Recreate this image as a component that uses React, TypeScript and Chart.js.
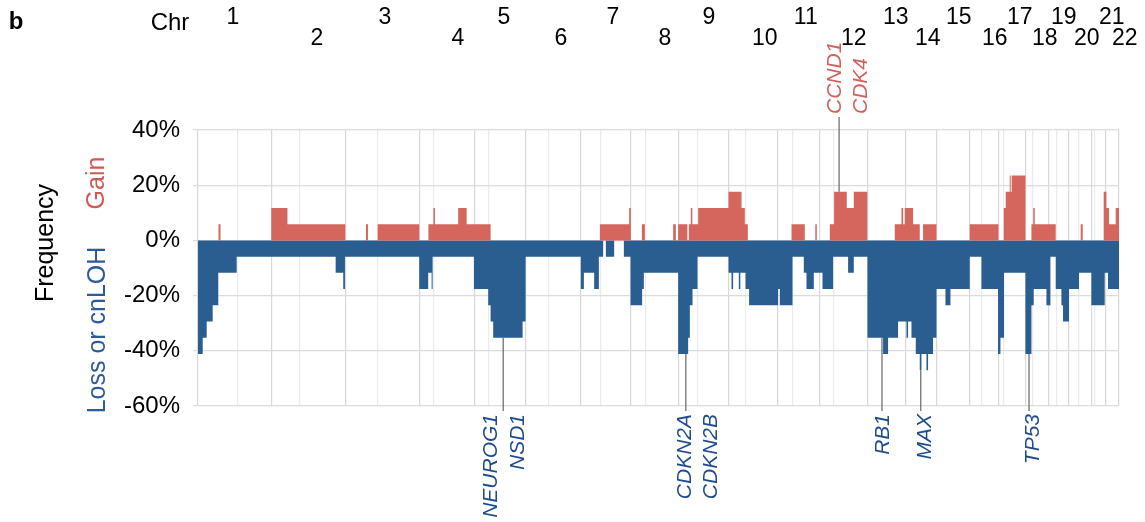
import React, { useEffect, useRef } from 'react';
import { Chart, registerables } from 'chart.js';

Chart.register(...registerables);

const FONT = '"Liberation Sans", Arial, Helvetica, sans-serif';

// Number of samples in the cohort (frequencies are counts / samples)
const SAMPLE_COUNT = 17;

// Genome coordinate axis (arbitrary genome units)
const GENOME_END = 921.3;
const chromosomes = ['1', '2', '3', '4', '5', '6', '7', '8', '9', '10', '11', '12', '13', '14', '15', '16', '17', '18', '19', '20', '21', '22'];
const chromBoundaries = [0, 73.3, 147.3, 221.3, 276.3, 327.7, 382.7, 432.7, 481, 530.7, 579.3, 621.7, 669.7, 707.7, 738.7, 772.3, 800.7, 827.7, 850.7, 871.3, 894, 907.7, 921.3];
const centromeres = [39.7, 102, 179.7, 235.7, 290.3, 351, 403, 447.7, 499.7, 547.7, 594.7, 636.3, 784, 806.3, 834.7, 858.7, 880.7, 897];
const chromLabelPos = [35, 119, 187, 260, 306, 363, 415, 467, 511, 567, 608, 656, 698, 730, 761, 797, 822, 847, 866, 889, 914, 927];

// Segments: [start position, number of samples]
const gainSegments: [number, number][] = [
  [0, 0], [20.5, 1], [22.5, 0], [73.3, 2], [89.5, 1], [147.3, 0], [168, 1], [170, 0], [179.7, 1], [221.3, 0],
  [230.5, 1], [235.5, 2], [237, 1], [260.3, 2], [268.7, 1], [292.7, 0], [402, 1], [431.3, 2], [433, 0], [444, 1],
  [447, 0], [475.3, 1], [478, 0], [480.3, 1], [489.5, 0], [491, 1], [493, 2], [494.5, 1], [500.3, 2], [530.7, 3],
  [543.7, 2], [547, 1], [550, 0], [593.7, 1], [607, 0], [617.5, 1], [619, 0], [632, 1], [636.3, 3], [649, 2],
  [656, 3], [669.5, 0], [697, 1], [703.7, 2], [705.3, 1], [707, 2], [715.3, 1], [722, 0], [725.3, 1], [738.7, 0],
  [772, 1], [800.7, 0], [806, 2], [808, 3], [812, 4], [813, 3], [814, 4], [827.7, 0], [833.7, 1], [835.5, 2],
  [837, 1], [858, 0], [883, 1], [885, 0], [906, 3], [908.7, 2], [911.3, 1], [918, 2], [921.3, 2],
];

const lossSegments: [number, number][] = [
  [0, 7], [4.7, 6], [8.7, 5], [14.7, 4], [20.3, 2], [38.7, 1], [137.7, 2], [145.3, 3], [147, 1], [221.3, 3],
  [230.3, 2], [233.7, 3], [234.7, 1], [276, 3], [290.3, 4], [292.7, 5], [295.3, 6], [324.7, 5], [327.7, 1], [383, 3],
  [386, 2], [396.3, 3], [401, 1], [405.3, 0], [408, 1], [416.3, 0], [426, 1], [432.7, 4], [444.3, 3], [446, 2],
  [480.3, 7], [490.3, 6], [492, 4], [494.7, 3], [499.7, 1], [530.7, 2], [533.7, 3], [535.3, 2], [541, 3], [542.5, 2],
  [547.7, 3], [551.3, 4], [580.3, 3], [582, 4], [594.7, 1], [606, 2], [608.7, 3], [616, 2], [624.7, 3], [635.3, 1],
  [650.3, 2], [656, 1], [669.7, 6], [685.3, 7], [690.3, 6], [700.3, 5], [708.7, 6], [710.3, 5], [713.7, 6], [718, 7],
  [722, 8], [723.7, 7], [728.7, 8], [730.3, 7], [735.3, 6], [738.7, 3], [747.7, 4], [752.7, 3], [772, 1], [783.7, 3],
  [800.3, 7], [802.7, 6], [806.3, 2], [827.7, 7], [833.7, 4], [836, 3], [848.7, 4], [852.7, 1], [858, 3], [863.7, 4],
  [865.3, 5], [871.3, 3], [881.3, 2], [893.7, 4], [907, 2], [910.3, 3], [921.3, 3],
];

// Gene annotations
const lossGenes = ['NEUROG1', 'NSD1', 'CDKN2A', 'CDKN2B', 'RB1', 'MAX', 'TP53'];
const lossGeneLabelPos = [293.7, 320.3, 487, 513, 685.3, 727, 835.3];
const lossMarkerPos = [305.3, 488, 684.2, 723, 831.3];
const lossMarkerCount = [6, 7, 6, 8, 7];
const gainGenes = ['CCND1', 'CDK4'];
const gainGeneLabelPos = [637, 663.7];
const gainMarkerPos = [641.3];
const gainMarkerCount = [3];

const yTicks = [-60, -40, -20, 0, 20, 40];

const GAIN_COLOR = '#D4665E';
const LOSS_COLOR = '#2A5E91';

const boundarySet = new Set(chromBoundaries);
const gridPositions = [...chromBoundaries, ...centromeres].sort((a, b) => a - b);

const toPct = (count: number) => (count / SAMPLE_COUNT) * 100;

function drawRotated(ctx: CanvasRenderingContext2D, text: string, x: number, y: number, align: CanvasTextAlign) {
  ctx.save();
  ctx.translate(x, y);
  ctx.rotate(-Math.PI / 2);
  ctx.textAlign = align;
  ctx.textBaseline = 'middle';
  ctx.fillText(text, 0, 0);
  ctx.restore();
}

const annotationPlugin = {
  id: 'annotations',
  afterDraw(chart: any) {
    const { ctx, chartArea } = chart;
    const x = chart.scales.x;
    const y = chart.scales.y;
    ctx.save();
    ctx.fillStyle = '#000';
    ctx.textAlign = 'center';
    ctx.textBaseline = 'middle';
    ctx.font = `bold 24px ${FONT}`;
    ctx.fillText('b', 16, 22);
    ctx.font = `24px ${FONT}`;
    ctx.fillText('Chr', 170, 23);
    ctx.font = `23px ${FONT}`;
    chromosomes.forEach((c, i) => {
      ctx.fillText(c, x.getPixelForValue(chromLabelPos[i]), i % 2 === 0 ? 18 : 39);
    });

    // axis titles
    ctx.font = `25px ${FONT}`;
    ctx.fillStyle = '#000';
    drawRotated(ctx, 'Frequency', 46, 243, 'center');
    ctx.fillStyle = '#CF5A54';
    drawRotated(ctx, 'Gain', 97, 183, 'center');
    ctx.fillStyle = '#2C5A9A';
    drawRotated(ctx, 'Loss or cnLOH', 98, 330, 'center');

    // leader lines
    ctx.strokeStyle = '#666';
    ctx.lineWidth = 1.2;
    lossMarkerPos.forEach((p, i) => {
      const px = x.getPixelForValue(p);
      ctx.beginPath();
      ctx.moveTo(px, y.getPixelForValue(-toPct(lossMarkerCount[i])));
      ctx.lineTo(px, chartArea.bottom + 5);
      ctx.stroke();
    });
    gainMarkerPos.forEach((p, i) => {
      const px = x.getPixelForValue(p);
      ctx.beginPath();
      ctx.moveTo(px, y.getPixelForValue(toPct(gainMarkerCount[i])));
      ctx.lineTo(px, chartArea.top - 13);
      ctx.stroke();
    });

    // gene labels
    ctx.font = `italic 21px ${FONT}`;
    ctx.fillStyle = '#1E4B8B';
    lossGenes.forEach((g, i) => {
      drawRotated(ctx, g, x.getPixelForValue(lossGeneLabelPos[i]), chartArea.bottom + 8, 'right');
    });
    ctx.fillStyle = '#D0605A';
    gainGenes.forEach((g, i) => {
      drawRotated(ctx, g, x.getPixelForValue(gainGeneLabelPos[i]), chartArea.top - 16, 'left');
    });
    ctx.restore();
  },
};

export default function App() {
  const canvasRef = useRef<HTMLCanvasElement | null>(null);

  useEffect(() => {
    if (!canvasRef.current) return;
    Chart.defaults.font.family = FONT;
    const chart = new Chart(canvasRef.current, {
      type: 'line',
      data: {
        datasets: [
          {
            label: 'Gain',
            data: gainSegments.map(([p, c]) => ({ x: p, y: toPct(c) })),
            stepped: true,
            fill: 'origin',
            backgroundColor: GAIN_COLOR,
            borderColor: 'rgba(0,0,0,0)',
            borderWidth: 0,
            pointRadius: 0,
          },
          {
            label: 'Loss or cnLOH',
            data: lossSegments.map(([p, c]) => ({ x: p, y: -toPct(c) })),
            stepped: true,
            fill: 'origin',
            backgroundColor: LOSS_COLOR,
            borderColor: 'rgba(0,0,0,0)',
            borderWidth: 0,
            pointRadius: 0,
          },
        ],
      },
      options: {
        responsive: false,
        animation: false,
        layout: { padding: { left: 0, right: 26, top: 130, bottom: 116 } },
        plugins: {
          legend: { display: false },
          tooltip: { enabled: false },
        },
        scales: {
          x: {
            type: 'linear',
            min: 0,
            max: GENOME_END,
            afterBuildTicks: (scale: any) => {
              scale.ticks = gridPositions.map((v) => ({ value: v }));
            },
            afterFit: (scale: any) => {
              scale.height = 0;
            },
            ticks: { display: false },
            grid: {
              color: (c: any) => (c.tick && boundarySet.has(c.tick.value) ? '#D8D8D8' : '#EBEBEB'),
              lineWidth: 1.2,
              drawTicks: false,
            },
            border: { display: false },
          },
          y: {
            min: -60,
            max: 40,
            afterBuildTicks: (scale: any) => {
              scale.ticks = yTicks.map((v) => ({ value: v }));
            },
            afterFit: (scale: any) => {
              scale.width = 198;
            },
            ticks: {
              callback: (v: any) => `${v}%`,
              color: '#000',
              font: { size: 24, family: FONT },
              padding: 13,
            },
            grid: { color: '#DCDCDC', lineWidth: 1.2, tickLength: 5 },
            border: { display: false },
          },
        },
      },
      plugins: [annotationPlugin],
    });
    return () => chart.destroy();
  }, []);

  return (
    <div style={{ position: 'fixed', left: 0, top: 0, width: 1145, height: 522, background: '#fff' }}>
      <canvas ref={canvasRef} width={1145} height={522} style={{ display: 'block' }} />
    </div>
  );
}
